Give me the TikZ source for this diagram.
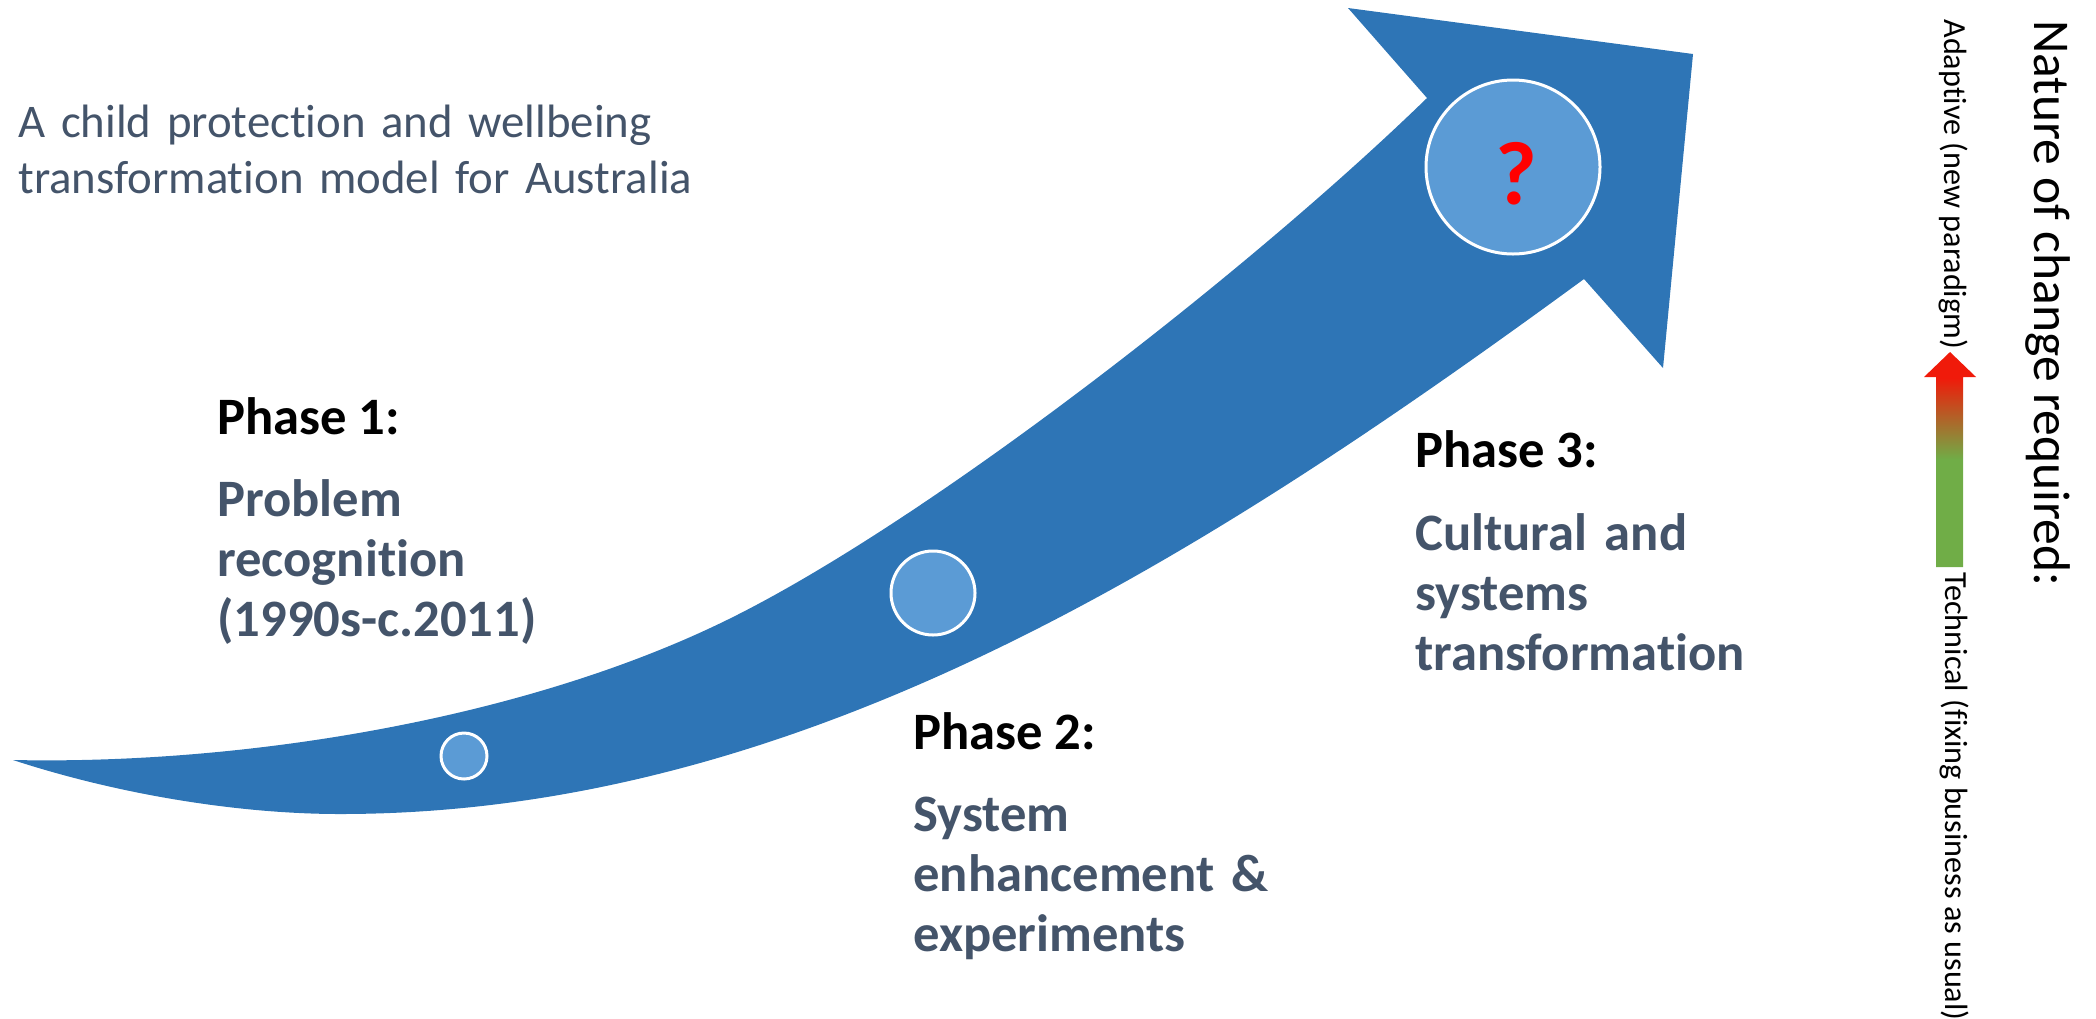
\documentclass[tikz,border=0pt]{standalone}
\usepackage{fontspec}
\setmainfont{Carlito}[Ligatures=NoCommon]
\usepackage{tikz}

\definecolor{arrowblue}{HTML}{2E75B6}
\definecolor{dotblue}{HTML}{5B9BD5}
\definecolor{slate}{HTML}{44546A}
\definecolor{changered}{HTML}{F01A0A}
\definecolor{changegreen}{HTML}{70AD47}
\pgfdeclareverticalshading{redgreen}{100bp}{color(0bp)=(changegreen); color(50bp)=(changegreen); color(69bp)=(changered); color(100bp)=(changered)}

\begin{document}
\begin{tikzpicture}[line cap=round,line join=round,x=0.5pt,y=-0.5pt]
\useasboundingbox (0,0) rectangle (2096,1018);
\tikzstyle{dot}=[circle, fill=dotblue, draw=white, line width=1.5pt, inner sep=0pt]
\tikzstyle{phasehead}=[anchor=base west, inner sep=0pt, font=\fontsize{26.3}{30}\selectfont\bfseries]
\tikzstyle{phasebody}=[anchor=base west, inner sep=0pt, text width=9cm, align=left, text=slate, font=\fontsize{26.3}{30}\selectfont\bfseries]
\tikzstyle{sidelabel}=[rotate=-90, anchor=base west, inner sep=0pt, font=\fontsize{16.1}{18}\selectfont]

% the big curved arrow
\fill [arrowblue] (13,760) .. controls (250,765) and (533,717) .. (733,617)
  .. controls (933,517) and (1250,270) .. (1427,98)
  -- (1348,8) -- (1693,54) -- (1663,368) -- (1584,279)
  .. controls (1200,560) and (800,814) .. (340,814)
  .. controls (240,814) and (120,795) .. (13,760) -- cycle;

\node [dot, minimum size=23pt] (c1) at (464,756) {};
\node [dot, minimum size=42pt] (c2) at (933,593) {};
\node [dot, minimum size=87pt] (c3) at (1513,167) {};
\node [text=red, inner sep=0pt, font=\fontsize{45}{45}\selectfont\bfseries] (q) at (1516,174) {?};

\node [anchor=base west, inner sep=0pt, text width=20cm, align=left, text=slate, font=\fontsize{23.4}{28}\selectfont] (title) at (18,137) {A child protection and wellbeing\\transformation model for Australia};

% phases
\node [phasehead] (ph1) at (217,434) {Phase 1:};
\node [phasebody] (pb1) at (217,516) {Problem\\recognition\\(1990s-c.2011)};
\node [phasehead] (ph2) at (913,749) {Phase 2:};
\node [phasebody] (pb2) at (913,831) {System\\enhancement \&\\experiments};
\node [phasehead] (ph3) at (1415,467) {Phase 3:};
\node [phasebody] (pb3) at (1415,550) {Cultural and\\systems\\transformation};

% nature of change scale
\shade [shading=redgreen] (1936,567) -- (1936,377) -- (1924,377) -- (1950,352) -- (1976,377) -- (1963,377) -- (1963,567) -- cycle;
\node [sidelabel] (adapt) at (1944,19) {Adaptive (new paradigm)};
\node [sidelabel] (tech) at (1945,572) {Technical (fixing business as usual)};
\node [sidelabel, font=\fontsize{25.8}{30}\selectfont] (nature) at (2034,20) {Nature of change required:};
\end{tikzpicture}
\end{document}
